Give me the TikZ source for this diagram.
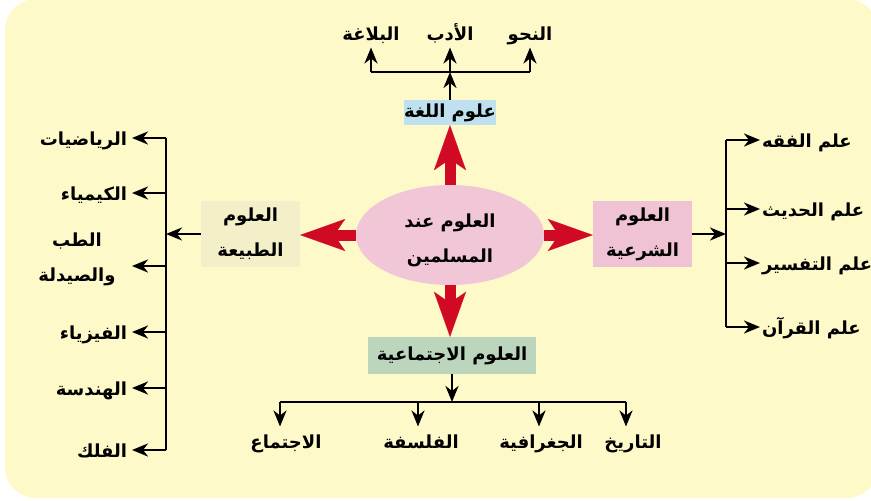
\documentclass[tikz,border=0pt]{standalone}
\usepackage{fontspec}
\newfontfamily\arabicfont[Script=Arabic]{DejaVu Sans}
\TeXXeTstate=1
\usetikzlibrary{arrows.meta,shapes.geometric}
\definecolor{bgyellow}{HTML}{FEF9C9}
\definecolor{ellpink}{HTML}{F1C6D6}
\definecolor{natbox}{HTML}{F3EFC8}
\definecolor{sharbox}{HTML}{F0C3D4}
\definecolor{langbox}{HTML}{BEE0EF}
\definecolor{socbox}{HTML}{BCD5BD}
\definecolor{bigred}{HTML}{D00A24}
\newcommand{\artxt}[1]{\beginR #1\endR}
\begin{document}
\begin{tikzpicture}[x=1pt,y=-1pt,
  lbl/.style={font=\arabicfont\bfseries\fontsize{18}{35}\selectfont, inner sep=0pt, text=black},
  boxst/.style={lbl, align=center, inner sep=0pt},
  leafv/.style={lbl, text height=15pt, text depth=1pt, outer ysep=6.5pt},
  leafh/.style={lbl, text height=15pt, text depth=1pt, outer xsep=5pt},
  ln/.style={line width=2.5pt},
  blk/.style={line width=2.5pt, -{Stealth[length=16pt,width=13pt,inset=5pt]}},
  redarr/.style={draw=bigred, line width=11pt, -{Stealth[length=45pt,width=32pt,inset=11pt,line width=0.1pt]}}
]
\useasboundingbox (0,0) rectangle (871,501);
\fill[bgyellow, rounded corners=31pt] (5,-1) rectangle (878,498);

% central ellipse and boxes
\node[ellipse, fill=ellpink, minimum width=188pt, minimum height=100pt, inner sep=0pt] (ell) at (450,235) {};
\node[boxst] (elltxt) at (450,240) {\artxt{العلوم عند}\\\artxt{المسلمين}};
\node[fill=langbox, minimum width=88pt, minimum height=25pt, boxst] (lang) at (450,112.5) {\artxt{علوم اللغة}};
\node[fill=natbox, minimum width=99pt, minimum height=66pt, boxst] (nat) at (250.5,234) {\artxt{العلوم}\\\artxt{الطبيعة}};
\node[fill=sharbox, minimum width=99pt, minimum height=66pt, boxst] (shar) at (642.5,234) {\artxt{العلوم}\\\artxt{الشرعية}};
\node[fill=socbox, minimum width=168pt, minimum height=37pt, boxst] (soc) at (452,355.5) {\artxt{العلوم الاجتماعية}};

% red arrows
\draw[redarr] (ell.north) -- (ell.north |- lang.south);
\draw[redarr] (ell.south) -- (ell.south |- soc.north);
\draw[redarr] (ell.west) -- (ell.west -| nat.east);
\draw[redarr] (ell.east) -- (ell.east -| shar.west);

% top tree
\node[leafv] (balagha) at (371,33) {\artxt{البلاغة}};
\node[leafv] (adab) at (450,33) {\artxt{الأدب}};
\node[leafv] (nahw) at (530,33) {\artxt{النحو}};
\coordinate (tbar) at (450,72);
\draw[blk] (lang.north) -- (tbar);
\draw[ln] (balagha.south |- tbar) -- (nahw.south |- tbar);
\draw[blk] (balagha.south |- tbar) -- (balagha.south);
\draw[blk] (adab.south |- tbar) -- (adab.south);
\draw[blk] (nahw.south |- tbar) -- (nahw.south);

% bottom tree
\node[leafv] (ijtima) at (286,441) {\artxt{الاجتماع}};
\node[leafv] (falsafa) at (421,441) {\artxt{الفلسفة}};
\node[leafv] (jughr) at (541,441) {\artxt{الجغرافية}};
\node[leafv] (tarikh) at (633,441) {\artxt{التاريخ}};
\coordinate (bbar) at (452,402);
\coordinate (bl) at (280,402);
\coordinate (b2) at (418,402);
\coordinate (b3) at (539,402);
\coordinate (br) at (626,402);
\draw[blk] (soc.south) -- (bbar);
\draw[ln] (bl) -- (br);
\draw[blk] (bl) -- (bl |- ijtima.north);
\draw[blk] (b2) -- (b2 |- falsafa.north);
\draw[blk] (b3) -- (b3 |- jughr.north);
\draw[blk] (br) -- (br |- tarikh.north);

% left tree
\coordinate (lv) at (166,0);
\node[leafh, anchor=east] (riyad) at (132,138) {\artxt{الرياضيات}};
\node[leafh, anchor=east] (kimya) at (132,193) {\artxt{الكيمياء}};
\node[lbl, align=center] (tibb) at (77,259) {\artxt{الطب}\\\artxt{والصيدلة}};
\coordinate (tibbtip) at (132,266);
\node[leafh, anchor=east] (fiziya) at (132,332) {\artxt{الفيزياء}};
\node[leafh, anchor=east] (handasa) at (132,388) {\artxt{الهندسة}};
\node[leafh, anchor=east] (falak) at (132,450) {\artxt{الفلك}};
\draw[blk] (nat.west) -- (lv |- nat.west);
\draw[ln] (lv |- riyad.east) -- (lv |- falak.east);
\draw[blk] (lv |- riyad.east) -- (riyad.east);
\draw[blk] (lv |- kimya.east) -- (kimya.east);
\draw[blk] (lv |- tibbtip) -- (tibbtip);
\draw[blk] (lv |- fiziya.east) -- (fiziya.east);
\draw[blk] (lv |- handasa.east) -- (handasa.east);
\draw[blk] (lv |- falak.east) -- (falak.east);

% right tree
\coordinate (rv) at (726,0);
\node[leafh, anchor=west, outer xsep=2pt] (fiqh) at (760,140) {\artxt{علم الفقه}};
\node[leafh, anchor=west, outer xsep=2pt] (hadith) at (760,209) {\artxt{علم الحديث}};
\node[leafh, anchor=west, outer xsep=2pt] (tafsir) at (760,263) {\artxt{علم التفسير}};
\node[leafh, anchor=west, outer xsep=2pt] (quran) at (760,327) {\artxt{علم القرآن}};
\draw[blk] (shar.east) -- (rv |- shar.east);
\draw[ln] (rv |- fiqh.west) -- (rv |- quran.west);
\draw[blk] (rv |- fiqh.west) -- (fiqh.west);
\draw[blk] (rv |- hadith.west) -- (hadith.west);
\draw[blk] (rv |- tafsir.west) -- (tafsir.west);
\draw[blk] (rv |- quran.west) -- (quran.west);
\end{tikzpicture}
\end{document}
